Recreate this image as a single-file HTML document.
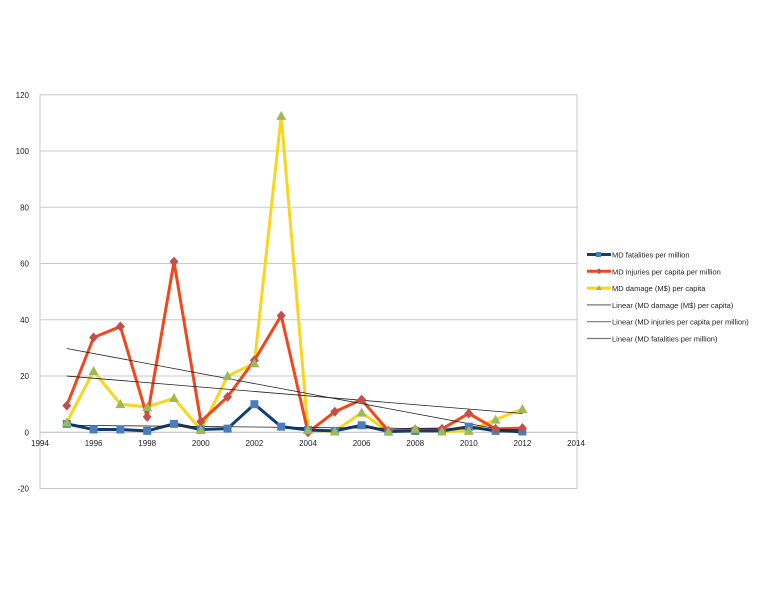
<!DOCTYPE html><html><head><style>body{margin:0;background:#fff}svg{display:block;font-family:"Liberation Sans",sans-serif}</style></head><body>
<svg id="s" width="768" height="593" xmlns="http://www.w3.org/2000/svg"></svg>
<script>
var s=document.getElementById('s'),h='';
function X(y){return 40+(y-1994)*26.8}
function Y(v){return 432.3-v*2.8125}
for(var v=-20;v<=120;v+=20){var y=Y(v);h+='<line x1="40" x2="577" y1="'+y+'" y2="'+y+'" stroke="'+(v==0?'#bbb':'#c8c8c8')+'" stroke-width="1"/>';h+='<text x="29" y="'+(y+3)+'" font-size="8" text-anchor="end" fill="#222">'+v+'</text>';}
h+='<line x1="40" x2="40" y1="95" y2="489" stroke="#c8c8c8"/><line x1="577" x2="577" y1="95" y2="489" stroke="#c8c8c8"/>';
for(var yr=1994;yr<=2014;yr+=2)h+='<text x="'+X(yr)+'" y="446" font-size="8" text-anchor="middle" fill="#222">'+yr+'</text>';
var F=[3,1,1,0.5,3,1,1.3,10,2,0.8,0.5,2.5,0.3,0.5,0.5,2,0.5,0.3];
var I=[9.5,33.7,37.6,5.5,60.7,3.8,12.6,25.6,41.5,0,7.3,11.6,0.5,1,1.2,6.7,1.2,1.5];
var D=[3.5,21.8,10,9,12.2,0.8,20,24.5,112.5,0.8,0.3,7,0.2,1.2,0.3,0.5,4.5,8.3];
function pts(a){return a.map(function(v,i){return X(1995+i)+','+Y(v)}).join(' ')}
function tl(a,b){return '<line x1="'+X(1995)+'" y1="'+Y(a)+'" x2="'+X(2012)+'" y2="'+Y(b)+'" stroke="#222" stroke-width="0.8"/>'}
h+='<polyline points="'+pts(D)+'" fill="none" stroke="#f9d51c" stroke-width="3" stroke-linejoin="round"/>';
h+='<polyline points="'+pts(I)+'" fill="none" stroke="#f2471b" stroke-width="3" stroke-linejoin="round"/>';
h+='<polyline points="'+pts(F)+'" fill="none" stroke="#0e3e74" stroke-width="3" stroke-linejoin="round"/>';
h+=tl(29.8,-0.5)+tl(20,6.7)+tl(2.5,1);
F.forEach(function(v,i){var x=X(1995+i),y=Y(v);h+='<rect x="'+(x-4)+'" y="'+(y-4)+'" width="8" height="8" fill="#4a7ebb"/>'});
I.forEach(function(v,i){var x=X(1995+i),y=Y(v);h+='<polygon points="'+x+','+(y-5)+' '+(x+4.5)+','+y+' '+x+','+(y+5)+' '+(x-4.5)+','+y+'" fill="#c0504d"/>'});
D.forEach(function(v,i){var x=X(1995+i),y=Y(v);h+='<polygon points="'+x+','+(y-5)+' '+(x+5)+','+(y+4)+' '+(x-5)+','+(y+4)+'" fill="#9bbb59"/>'});
var L=[['MD fatalities per million','#0e3e74',3,'sq'],['MD injuries per capita per million','#f2471b',3,'di'],['MD damage (M$) per capita','#f9d51c',3,'tr'],['Linear (MD damage (M$) per capita)','#777',1.2],['Linear (MD injuries per capita per million)','#777',1.2],['Linear (MD fatalities per million)','#777',1.2]];
L.forEach(function(l,i){var y=254.5+i*16.8;h+='<line x1="587" x2="611" y1="'+y+'" y2="'+y+'" stroke="'+l[1]+'" stroke-width="'+l[2]+'"/>';
if(l[3]=='sq')h+='<rect x="596" y="'+(y-2.5)+'" width="5" height="5" fill="#4a7ebb"/>';
if(l[3]=='di')h+='<polygon points="599,'+(y-3)+' 602,'+y+' 599,'+(y+3)+' 596,'+y+'" fill="#c0504d"/>';
if(l[3]=='tr')h+='<polygon points="599,'+(y-3)+' 602,'+(y+2)+' 596,'+(y+2)+'" fill="#9bbb59"/>';
h+='<text x="612" y="'+(y+3)+'" font-size="7.5" fill="#222">'+l[0]+'</text>';});
s.innerHTML=h;
</script></body></html>
